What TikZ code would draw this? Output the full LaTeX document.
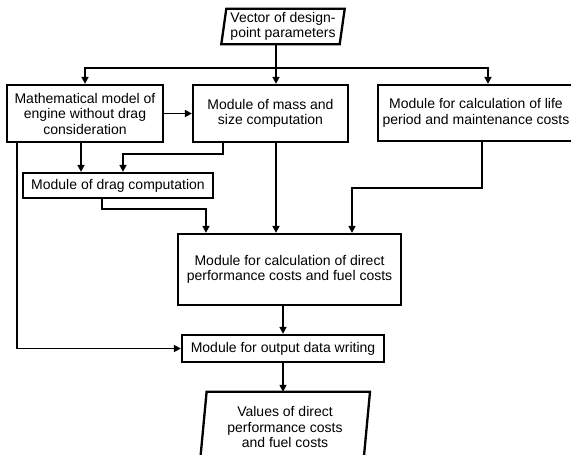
\documentclass[tikz,border=0pt]{standalone}
\usepackage{fontspec}
\setmainfont{Liberation Sans}
\usetikzlibrary{arrows.meta}
\begin{document}
\begin{tikzpicture}[x=1pt,y=-1pt,
  txt/.style={align=center, inner sep=0pt, font=\fontsize{14}{15.5}\selectfont},
  box/.style={txt, draw, line width=2.3pt},
  outline/.style={line width=2.3pt},
  conn/.style={line width=1.6pt},
  arr/.style={conn, -{Triangle[length=7pt,width=7pt]}}]
\useasboundingbox (0,0) rectangle (571,455);
% input parallelogram
\node[txt, minimum width=118pt, minimum height=35pt] (vec) at (283,26.5) {Vector of design-\\point parameters};
\draw[outline] ([xshift=2.5pt]vec.north west) -- ([xshift=2.5pt]vec.north east) -- ([xshift=-2.5pt]vec.south east) -- ([xshift=-2.5pt]vec.south west) -- cycle;
% modules
\node[box, minimum width=156pt, minimum height=57pt] (math) at (85,113.5) {Mathematical model of\\engine without drag\\consideration};
\node[box, minimum width=155pt, minimum height=57pt] (mass) at (270.5,113.5) {Module of mass and\\size computation};
\node[box, minimum width=196pt, minimum height=56pt] (life) at (476,113) {Module for calculation of life\\period and maintenance costs};
\node[box, minimum width=190pt, minimum height=25pt] (drag) at (118,185.5) {Module of drag computation};
\node[box, minimum width=223pt, minimum height=71pt] (direct) at (289.5,269.5) {Module for calculation of direct\\performance costs and fuel costs};
\node[box, minimum width=202pt, minimum height=27pt] (out) at (283,348.5) {Module for output data writing};
% output parallelogram
\node[txt, minimum width=163pt, minimum height=70pt] (val) at (285,427) {Values of direct\\performance costs\\and fuel costs};
\draw[outline] ([xshift=3.3pt]val.north west) -- ([xshift=3.3pt]val.north east) -- ([xshift=-3.3pt]val.south east) -- ([xshift=-3.3pt]val.south west) -- cycle;
% connectors
\coordinate (bus) at (276,68);
\draw[conn] (vec.south -| bus) -- (bus);
\draw[arr] (bus) -- (bus |- mass.north);
\draw[arr] (bus) -| (math.north);
\draw[arr] (bus) -| ([xshift=12pt]life.north);
\draw[arr] (math.east) -- (math.east -| mass.west);
\draw[arr] ([xshift=-4pt]math.south) -- ([xshift=-4pt]math.south |- drag.north);
\draw[arr] ([xshift=-47.5pt]mass.south) -- ++(0,11) -| ([xshift=5pt]drag.north);
\draw[arr] ([xshift=-16pt]drag.south) -- ++(0,10) -| ([xshift=-83.5pt]direct.north);
\draw[arr] (bus |- mass.south) -- (bus |- direct.north);
\draw[arr] ([xshift=6pt]life.south) -- ++(0,46) -| ([xshift=62.5pt]direct.north);
\draw[arr] ([xshift=-68pt]math.south) |- (out.west);
\draw[arr] (direct.south -| out.north) -- (out.north);
\draw[arr] (out.south) -- (out.south |- val.north);
\end{tikzpicture}
\end{document}
